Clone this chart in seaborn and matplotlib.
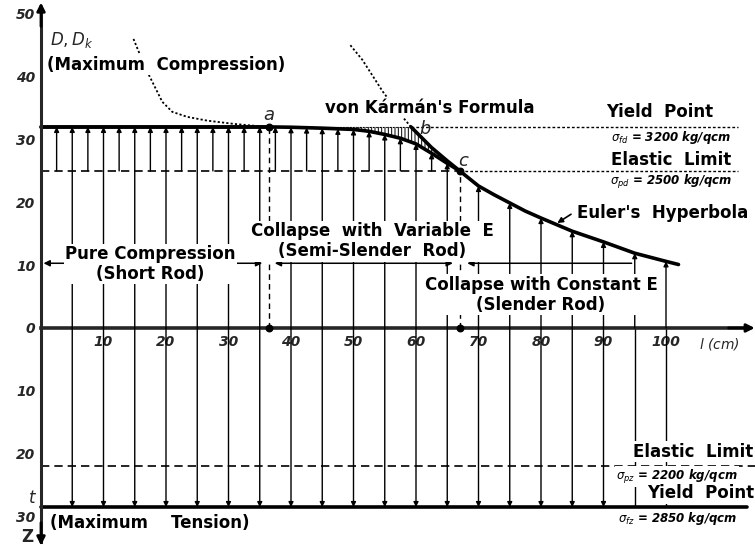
import matplotlib
matplotlib.use('Agg')
import matplotlib.pyplot as plt
import seaborn as sns

sns.set_style('white')
plt.rcParams['font.family'] = ['DejaVu Sans']
plt.rcParams['hatch.linewidth'] = 0.7

# rod length l (cm) against stress D, Z (100 kg/qcm)
full_l = [5, 10, 15, 20, 25, 30, 35, 40, 45, 50, 55, 60, 65, 70, 75, 80, 85, 90, 95, 100]
full_top = [32, 32, 32, 32, 32, 32, 32, 31.95, 31.8, 31.6, 30.8, 29.3, 26.2,
            22.6, 19.9, 17.5, 15.4, 13.7, 11.9, 10.6]
half_l = [2.5, 7.5, 12.5, 17.5, 22.5, 27.5, 32.5, 37.5, 42.5, 47.5, 52.5, 57.5, 62.5]
half_top = [32, 32, 32, 32, 32, 32, 32, 32.0, 31.9, 31.7, 31.3, 30.2, 27.8]
tens_l = [5, 10, 15, 20, 25, 30, 35, 40, 45, 50, 55, 60, 65, 70, 75, 80, 85, 90]
tens_plain_l = [95, 100]

yield_comp = 32
elastic_comp = 25
elastic_tens = 22
yield_tens = 28.5
point_a = 36.5
point_b = 59.2
point_c = 67

karman_l = [36.5, 40, 45, 50, 52.5, 55, 57.5, 60, 62.5, 65, 67]
karman_D = [32.0, 31.95, 31.8, 31.6, 31.3, 30.8, 30.2, 29.3, 27.8, 26.2, 25.0]

euler_l = [59.2, 60, 62.5, 65, 67, 70, 72.5, 75, 77.5, 80, 85, 90, 95, 100, 102]
euler_D = [32.0, 31.2, 28.7, 26.6, 25.0, 22.6, 21.2, 19.9, 18.6, 17.5, 15.4, 13.7, 11.9, 10.6, 10.1]

euler_ext_l = [49.5, 51.4, 54.7, 57.0, 59.2]
euler_ext_D = [45.0, 42.7, 37.6, 34.6, 32.0]

maxcomp_l = [14.8, 15.5, 17.0, 18.2, 19.4, 21.0, 23.4, 26.6, 30.7, 33.9, 36.5]
maxcomp_D = [46.0, 44.3, 40.8, 38.4, 36.0, 34.4, 33.6, 33.0, 32.5, 32.2, 32.0]

hatch_l = [45, 50, 52.5, 55, 57.5, 59.2, 60, 62.5, 65, 67]
hatch_low = [31.8, 31.6, 31.3, 30.8, 30.2, 29.6, 29.3, 27.8, 26.2, 25.0]
hatch_high = [32, 32, 32, 32, 32, 32, 31.2, 28.7, 26.6, 25.0]

y_ticks = [-30, -20, -10, 0, 10, 20, 30, 40, 50]
x_ticks = [10, 20, 30, 40, 50, 60, 70, 80, 90, 100]

fig = plt.figure(figsize=(7.55, 5.46), dpi=100)
ax = fig.add_axes([0, 0, 1, 1])
ax.set_xlim(-6.56, 114.24)
ax.set_ylim(-34.7, 52.2)

for s in ['top', 'right']:
    ax.spines[s].set_visible(False)
ax.spines['left'].set_position(('data', 0))
ax.spines['bottom'].set_position(('data', 0))
ax.spines['left'].set_linewidth(2.2)
ax.spines['bottom'].set_linewidth(2.6)
ax.spines['left'].set_bounds(-34, 50.5)
ax.spines['bottom'].set_bounds(0, 113)

ax.set_yticks(y_ticks)
ax.set_yticklabels([str(abs(v)) for v in y_ticks])
ax.set_xticks(x_ticks)
ax.set_xticklabels([str(v) for v in x_ticks])
ax.tick_params(axis='y', direction='in', length=6, width=1, pad=4, labelsize=10)
ax.tick_params(axis='x', length=0, pad=5, labelsize=10)
for lbl in ax.get_yticklabels() + ax.get_xticklabels():
    lbl.set_fontstyle('italic')
    lbl.set_fontweight('bold')

# axis arrow heads
head = dict(arrowstyle='-|>', color='black', lw=2, mutation_scale=12, shrinkA=0, shrinkB=0)
ax.annotate('', xy=(0, 51.8), xytext=(0, 48), arrowprops=head)
ax.annotate('', xy=(0, -34.6), xytext=(0, -31), arrowprops=head)
ax.annotate('', xy=(114.2, 0), xytext=(110, 0), arrowprops=head)

# stress arrows
arr = dict(arrowstyle='-|>', color='black', lw=1.0, mutation_scale=7, shrinkA=0, shrinkB=0)
for l, top in zip(full_l, full_top):
    ax.annotate('', xy=(l, top), xytext=(l, 0), arrowprops=arr)
for l, top in zip(half_l, half_top):
    ax.annotate('', xy=(l, top), xytext=(l, elastic_comp), arrowprops=arr)
for l in tens_l:
    ax.annotate('', xy=(l, -yield_tens), xytext=(l, 0), arrowprops=arr)
for l in tens_plain_l:
    ax.plot([l, l], [0, -yield_tens], color='black', lw=1.0)

# limits
ax.plot([0, point_a], [yield_comp, yield_comp], color='black', lw=2.8)
ax.plot([point_a, point_b], [yield_comp, yield_comp], color='black', lw=0.8, ls=(0, (1.5, 1.5)))
ax.plot([point_b, 111.5], [yield_comp, yield_comp], color='black', lw=1.0, ls=(0, (2, 1.5)))
ax.plot([0, point_c], [elastic_comp, elastic_comp], color='black', lw=1.2, ls=(0, (5, 3)))
ax.plot([point_c, 111.5], [elastic_comp, elastic_comp], color='black', lw=1.0, ls=(0, (2, 1.5)))
ax.plot([0, 114.2], [-elastic_tens, -elastic_tens], color='black', lw=1.2, ls=(0, (5, 3)))
ax.plot([0, 113], [-yield_tens, -yield_tens], color='black', lw=2.6)

# curves
sns.lineplot(x=karman_l, y=karman_D, ax=ax, color='black', lw=2.6, sort=False, estimator=None)
sns.lineplot(x=euler_l, y=euler_D, ax=ax, color='black', lw=2.6, sort=False, estimator=None)
sns.lineplot(x=euler_ext_l, y=euler_ext_D, ax=ax, color='black', lw=1.3, ls=(0, (1.2, 1.2)),
             sort=False, estimator=None)
sns.lineplot(x=maxcomp_l, y=maxcomp_D, ax=ax, color='black', lw=1.3, ls=(0, (1.2, 1.2)),
             sort=False, estimator=None)
ax.fill_between(hatch_l, hatch_low, hatch_high, facecolor='none', edgecolor='black',
                hatch='|||||', linewidth=0)

# points a, b, c
ax.plot([point_a, point_a], [0, yield_comp], color='black', lw=1.0, ls=(0, (4, 3)))
ax.plot([point_c, point_c], [0, elastic_comp], color='black', lw=1.0, ls=(0, (4, 3)))
ax.scatter([point_a, point_c, point_a, point_c], [0, 0, yield_comp, elastic_comp],
           s=22, color='black', zorder=6)

# horizontal range arrows
rng = dict(arrowstyle='<|-|>', color='black', lw=1.1, mutation_scale=9, shrinkA=0, shrinkB=0)
ax.annotate('', xy=(0.4, 10.3), xytext=(35.4, 10.3), arrowprops=rng)
ax.annotate('', xy=(37.4, 10.3), xytext=(65.9, 10.3), arrowprops=rng)
ax.annotate('', xy=(68.2, 10.3), xytext=(94.5, 10.3),
            arrowprops=dict(rng, arrowstyle='-|>'))
ax.annotate('', xy=(82.6, 16.7), xytext=(84.8, 18.1),
            arrowprops=dict(arrowstyle='-|>', color='black', lw=1.2, mutation_scale=8,
                            shrinkA=0, shrinkB=0))

box = dict(facecolor='white', edgecolor='none', pad=1.0)
lab = dict(fontsize=12, fontweight='bold', color='black', zorder=10)
sub = dict(fontsize=8.5, fontstyle='italic', fontweight='bold', color='black', zorder=10)

ax.text(1.4, 45.9, r'$D, D_k$', fontsize=12, fontweight='bold', zorder=10, ha='left', va='center')
ax.text(0.9, 41.9, '(Maximum  Compression)', ha='left', va='center', bbox=box, **lab)
ax.text(62.2, 35.0, "von Kármán's Formula", ha='center', va='center', bbox=box, **lab)
ax.text(99.0, 34.3, 'Yield  Point', ha='center', va='center', **lab)
ax.text(100.8, 30.3, r'$\sigma_{fd}$ = 3200 kg/qcm', ha='center', va='center', **sub)
ax.text(100.8, 26.8, 'Elastic  Limit', ha='center', va='center', **lab)
ax.text(100.8, 23.2, r'$\sigma_{pd}$ = 2500 kg/qcm', ha='center', va='center', **sub)
ax.text(99.4, 18.3, "Euler's  Hyperbola", ha='center', va='center', bbox=box, **lab)
ax.text(53.0, 13.8, 'Collapse  with  Variable  E\n(Semi-Slender  Rod)', ha='center', va='center',
        linespacing=1.15, bbox=box, **lab)
ax.text(17.5, 10.2, 'Pure Compression\n(Short Rod)', ha='center', va='center',
        linespacing=1.15, bbox=box, **lab)
ax.text(80.0, 5.3, 'Collapse with Constant E\n(Slender Rod)', ha='center', va='center',
        linespacing=1.15, bbox=box, **lab)
ax.text(108.6, -2.5, r'$l$ (cm)', ha='center', va='center', fontsize=10, fontstyle='italic', zorder=10)
ax.text(1.4, -31.1, '(Maximum    Tension)', ha='left', va='center', **lab)
ax.text(-1.4, -27.0, r'$t$', ha='center', va='center', fontsize=12, zorder=10)
ax.text(-2.2, -33.3, r'$\mathbf{Z}$', ha='center', va='center', fontsize=12, zorder=10)
ax.text(104.3, -19.7, 'Elastic  Limit', ha='center', va='center', bbox=box, **lab)
ax.text(101.8, -23.7, r'$\sigma_{pz}$ = 2200 kg/qcm', ha='center', va='center', bbox=box, **sub)
ax.text(105.6, -26.3, 'Yield  Point', ha='center', va='center', bbox=box, **lab)
ax.text(101.8, -30.3, r'$\sigma_{fz}$ = 2850 kg/qcm', ha='center', va='center', **sub)

ax.text(point_a, 33.9, r'$a$', ha='center', va='center', fontsize=13, zorder=10)
ax.text(61.5, 31.6, r'$b$', ha='center', va='center', fontsize=13, zorder=10)
ax.text(67.6, 26.5, r'$c$', ha='center', va='center', fontsize=13, zorder=10)

fig.savefig('out.png', dpi=100)
